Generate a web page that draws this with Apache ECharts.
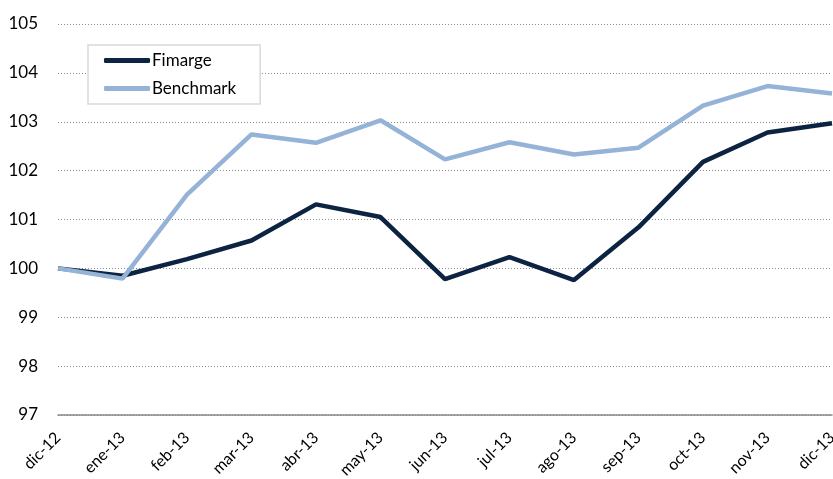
<!DOCTYPE html>
<html>
<head>
<meta charset="utf-8">
<script src="https://cdn.jsdelivr.net/npm/echarts@6/dist/echarts.min.js"></script>
<style>
html,body{margin:0;padding:0;background:#fff;}
#c{width:833px;height:479px;}
</style>
</head>
<body>
<div id="c"></div>
<script>
const categories = ['dic-12','ene-13','feb-13','mar-13','abr-13','may-13','jun-13','jul-13','ago-13','sep-13','oct-13','nov-13','dic-13'];
const fimarge = [100, 99.85, 100.19, 100.57, 101.31, 101.05, 99.78, 100.23, 99.76, 100.84, 102.18, 102.78, 102.97];
const benchmark = [100, 99.79, 101.51, 102.74, 102.57, 103.03, 102.23, 102.58, 102.33, 102.47, 103.33, 103.73, 103.58];
const yTicks = {min: 97, max: 105, interval: 1};

const FONT = 'Lato';
const chart = echarts.init(document.getElementById('c'), null, {renderer: 'canvas'});
chart.setOption({
  animation: false,
  backgroundColor: '#ffffff',
  textStyle: {fontFamily: FONT},
  grid: {left: 58, right: 1, top: 24, bottom: 64, containLabel: false, outerBoundsMode: 'none'},
  legend: {
    left: 88, top: 45,
    orient: 'vertical',
    padding: [7, 24, 7, 16],
    itemGap: 11,
    itemWidth: 46, itemHeight: 5,
    borderColor: '#d9d9d9', borderWidth: 1.5,
    backgroundColor: '#ffffff',
    textStyle: {fontFamily: FONT, fontSize: 17, color: '#000', padding: [0,0,0,-3]},
    data: [
      {name: 'Fimarge', icon: 'roundRect'},
      {name: 'Benchmark', icon: 'roundRect'}
    ]
  },
  xAxis: {
    type: 'category',
    data: categories,
    boundaryGap: false,
    axisLine: {lineStyle: {color: '#868686', width: 1.5}},
    axisTick: {show: false},
    axisLabel: {rotate: 45, margin: 20, fontSize: 16, color: '#000', fontFamily: FONT, interval: 0},
    splitLine: {show: false}
  },
  yAxis: {
    type: 'value',
    min: yTicks.min, max: yTicks.max, interval: yTicks.interval,
    axisLine: {show: false},
    axisTick: {show: false},
    axisLabel: {fontSize: 17, color: '#000', fontFamily: FONT, margin: 20},
    splitLine: {lineStyle: {color: '#8c8c8c', width: 1, type: [1, 2]}}
  },
  series: [
    {
      name: 'Fimarge', type: 'line', data: fimarge,
      symbol: 'none', smooth: false,
      lineStyle: {color: '#0c2341', width: 4.5},
      itemStyle: {color: '#0c2341'},
      z: 3
    },
    {
      name: 'Benchmark', type: 'line', data: benchmark,
      symbol: 'none', smooth: false,
      lineStyle: {color: '#95b3d7', width: 4.5},
      itemStyle: {color: '#95b3d7'},
      z: 4
    }
  ]
});
</script>
</body>
</html>
